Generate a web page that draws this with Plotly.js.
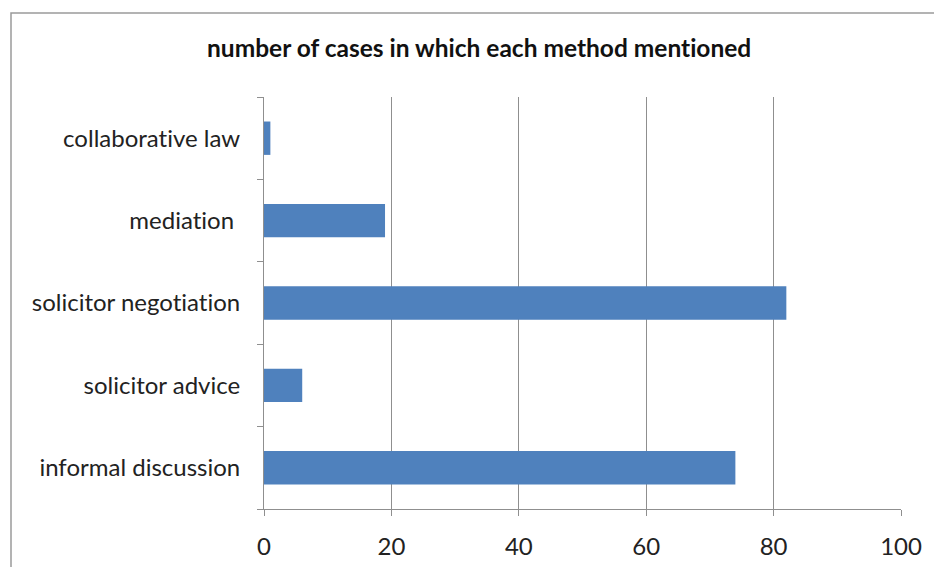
<!DOCTYPE html>
<html>
<head>
<meta charset="utf-8">
<script src="https://cdn.plot.ly/plotly-3.0.1.min.js"></script>
<style>
  html, body { margin: 0; padding: 0; background: #ffffff; }
  #chart { width: 934px; height: 567px; }
  #chart text { font-variant-ligatures: none; font-feature-settings: "liga" 0, "clig" 0; }
</style>
</head>
<body>
<div id="chart"></div>
<script>
// Categories listed bottom to top
var categories = ["informal discussion", "solicitor advice", "solicitor negotiation", "mediation ", "collaborative law"];
var caseCounts = [74, 6, 82, 19, 1];
var xTickValues = [0, 20, 40, 60, 80, 100];
var chartTitle = "number of cases in which each method mentioned";

var trace = {
  type: "bar",
  orientation: "h",
  y: categories,
  x: caseCounts,
  marker: { color: "#4F81BD", line: { width: 0 } },
  hoverinfo: "x+y"
};

var axisGray = "#8f8f8f";

var layout = {
  width: 934,
  height: 567,
  margin: { l: 264, r: 33, t: 97, b: 58, pad: 0 },
  paper_bgcolor: "#ffffff",
  plot_bgcolor: "#ffffff",
  showlegend: false,
  bargap: 0.595,
  font: { family: "Lato, 'Open Sans', sans-serif", color: "#222222" },
  title: {
    text: "<b>" + chartTitle + "</b>",
    font: { family: "Lato, 'Open Sans', sans-serif", size: 24.5, color: "#111111" },
    xref: "container", x: 0.513, xanchor: "center",
    yref: "container", y: 1 - 48 / 567, yanchor: "middle"
  },
  xaxis: {
    range: [0, 100],
    tickvals: xTickValues,
    ticktext: xTickValues.map(String),
    showgrid: true,
    gridcolor: axisGray,
    gridwidth: 1,
    zeroline: false,
    showline: true,
    linecolor: axisGray,
    linewidth: 1,
    ticks: "outside",
    ticklen: 6,
    tickcolor: axisGray,
    tickfont: { size: 24, color: "#222222" },
    ticklabelstandoff: 10,
    fixedrange: true
  },
  yaxis: {
    type: "category",
    categoryorder: "array",
    categoryarray: categories,
    showgrid: false,
    zeroline: false,
    showline: true,
    linecolor: axisGray,
    linewidth: 1,
    ticks: "outside",
    tickson: "boundaries",
    ticklen: 6,
    tickcolor: axisGray,
    tickfont: { size: 24, color: "#222222" },
    ticklabelstandoff: 18,
    fixedrange: true
  },
  shapes: [
    {
      type: "path",
      xref: "paper", yref: "paper",
      path: "M " + ((11 - 264) / 637) + " " + ((509 - 600) / 412) +
            " L " + ((11 - 264) / 637) + " " + ((509 - 13) / 412) +
            " L " + ((940 - 264) / 637) + " " + ((509 - 13) / 412),
      line: { color: "#9a9a9a", width: 1.5 },
      layer: "above"
    }
  ]
};

Plotly.newPlot("chart", [trace], layout, { displayModeBar: false, staticPlot: true });
</script>
</body>
</html>
